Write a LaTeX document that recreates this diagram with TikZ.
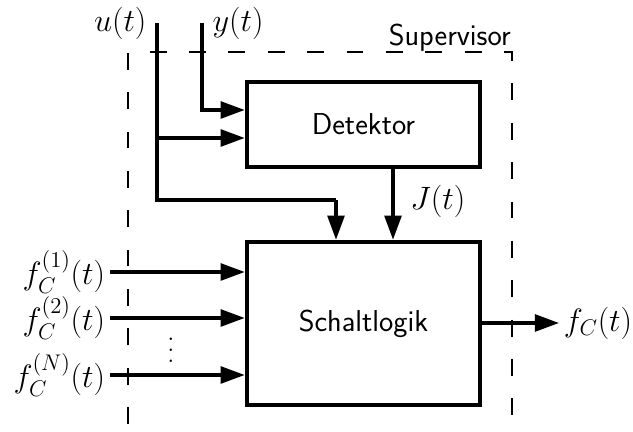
\RequirePackage{fix-cm}
\documentclass[tikz,border=0pt]{standalone}
\usepackage{amsmath, amssymb}
\usetikzlibrary{positioning,arrows.meta,calc}

\newcommand{\tallvdots}{\vbox{\baselineskip7.8pt\lineskiplimit0pt\kern4pt\hbox{.}\hbox{.}\hbox{.}}}

\tikzset{
  every node/.style={font=\fontsize{23}{28}\selectfont},
  block/.style={draw, line width=3.2pt, minimum width=5.825cm, font=\fontsize{21.5}{26}\selectfont\sffamily},
  sig/.style={line width=2.2pt, -{Triangle[length=6mm,width=4.2mm]}},
  wire/.style={line width=2.2pt},
  superbox/.style={line width=1.2pt, dash pattern=on 12pt off 16pt}
}

\begin{document}
\begin{tikzpicture}[x=0.025cm, y=0.025cm]
      \useasboundingbox (0,0) rectangle (633,432);
      % supervisor frame
      \draw[superbox] (128,8) -- (128,380) -- (512,380) -- (512,8);
      \node[anchor=base east, inner sep=0pt, font=\fontsize{21.5}{26}\selectfont\sffamily] (sup) at (511,386) {Supervisor};
      %
      \node[block, minimum height=2.125cm] (det) at (363.5,307.5) {Detektor};
      \node[block, minimum height=4.075cm] (logic) at (363.5,108.5) {Schaltlogik};
      %
      \coordinate (uin) at (157,409);
      \coordinate (yin) at (202,409);
      \node[left=4pt of uin] (lu) {$u(t)$};
      \node[right=4pt of yin] (ly) {$y(t)$};
      \coordinate (ybend) at (202,322);
      \coordinate (ubr) at (157,294);
      \coordinate (uturn) at (336,232);
      \draw[sig] (yin) -- (ybend) -- (ybend -| det.west);
      \draw[wire] (uin) |- (uturn);
      \draw[sig] (ubr) -- (ubr -| det.west);
      \draw[sig] (uturn) -- (uturn |- logic.north);
      %
      \coordinate (jx) at (393,0);
      \draw[sig] (det.south -| jx) -- (logic.north -| jx)
        node[pos=0.45, right=8pt] (lJ) {$J(t)$};
      %
      \node[anchor=east] (lf1) at (110,160) {$f_C^{(1)}(t)$};
      \node[anchor=east] (lf2) at (110,114) {$f_C^{(2)}(t)$};
      \node[anchor=east] (lfn) at (110,57) {$f_C^{(N)}(t)$};
      \draw[sig] (lf1.east) -- (lf1.east -| logic.west);
      \draw[sig] (lf2.east) -- (lf2.east -| logic.west);
      \draw[sig] (lfn.east) -- (lfn.east -| logic.west);
      \node[font=\fontsize{21.5}{26}\selectfont] (dots) at (171,85) {\tallvdots};
      %
      \node[anchor=west] (lfc) at (559,109) {$f_C(t)$};
      \draw[sig] (logic.east |- lfc.west) -- (lfc.west);
    \end{tikzpicture}
\end{document}
